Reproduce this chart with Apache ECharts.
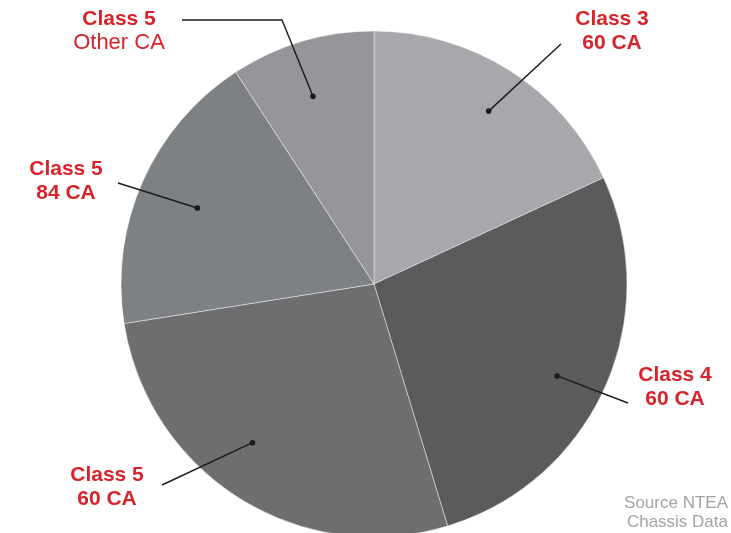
<!DOCTYPE html>
<html>
<head>
<meta charset="utf-8">
<script src="https://cdn.jsdelivr.net/npm/echarts@6/dist/echarts.min.js"></script>
<style>
html,body{margin:0;padding:0;background:#fff;}
#main{width:731px;height:533px;}
</style>
</head>
<body>
<div id="main"></div>
<script>
// ---- data ----
const labelTitles = ['Class 3', 'Class 4', 'Class 5', 'Class 5', 'Class 5'];
const labelSubs = ['60 CA', '60 CA', '60 CA', '84 CA', 'Other CA'];
const shares = [18.1, 27.2, 27.2, 18.3, 9.2];
const sourceLines = ['Source NTEA', 'Chassis Data'];

// ---- layout / style ----
const CENTER = [374, 284];
const RADIUS = 253;
const sliceColors = ['#a7a8ab', '#5b5b5e', '#6e6e70', '#7e8183', '#969599'];
// dot placement: [fraction along slice angle, fraction of radius]
const dotPlace = [[0.515, 0.82], [0.526, 0.81], [0.555, 0.79], [0.49, 0.76], [0.456, 0.78]];
// leader line end points (after the dot), in px
const leaderEnds = [[[561, 44]], [[628, 403]], [[162, 485]], [[118, 183]], [[282, 20], [182, 20]]];
// label text centre x and first-line middle y
const labelAnchor = [[612, 19], [675, 375], [107, 475], [66, 169], [119, 19]];
const subBold = [true, true, true, true, false];
const subSize = [21, 21, 21, 21, 22];
const LINE_GAP = 24;
const RED = '#d8232a';
const FONT = '"Liberation Sans", Arial, sans-serif';

const chart = echarts.init(document.getElementById('main'), null, {renderer: 'canvas'});

const names = labelTitles.map((t, i) => t + ' ' + labelSubs[i]);
const total = shares.reduce((a, b) => a + b, 0);

// build annotation graphics from the slice geometry
const graphics = [];
let acc = 0;
shares.forEach((v, i) => {
  const a0 = acc / total * 360;
  const a1 = (acc + v) / total * 360;
  acc += v;
  const ang = (a0 + (a1 - a0) * dotPlace[i][0]) * Math.PI / 180;
  const r = RADIUS * dotPlace[i][1];
  const dx = CENTER[0] + r * Math.sin(ang);
  const dy = CENTER[1] - r * Math.cos(ang);
  const pts = [[dx, dy]].concat(leaderEnds[i]);
  graphics.push({
    type: 'polyline', z: 10,
    shape: {points: pts},
    style: {stroke: '#1b1b1b', lineWidth: 1.4, fill: null}
  });
  graphics.push({
    type: 'circle', z: 11,
    shape: {cx: dx, cy: dy, r: 2.8},
    style: {fill: '#1b1b1b'}
  });
  graphics.push({
    type: 'text', z: 12, x: labelAnchor[i][0], y: labelAnchor[i][1],
    style: {text: labelTitles[i], fill: RED, font: 'bold 21px ' + FONT, textAlign: 'center', textVerticalAlign: 'middle'}
  });
  graphics.push({
    type: 'text', z: 12, x: labelAnchor[i][0], y: labelAnchor[i][1] + LINE_GAP,
    style: {text: labelSubs[i], fill: RED, font: (subBold[i] ? 'bold ' : '') + subSize[i] + 'px ' + FONT, textAlign: 'center', textVerticalAlign: 'middle'}
  });
});
sourceLines.forEach((t, i) => {
  graphics.push({
    type: 'text', z: 12, x: 728, y: 503 + i * 19.5,
    style: {text: t, fill: '#a3a3a3', font: '17px ' + FONT, textAlign: 'right', textVerticalAlign: 'middle'}
  });
});

chart.setOption({
  animation: false,
  backgroundColor: '#ffffff',
  series: [{
    type: 'pie',
    center: CENTER,
    radius: RADIUS,
    startAngle: 90,
    clockwise: true,
    silent: true,
    label: {show: false},
    labelLine: {show: false},
    itemStyle: {borderColor: 'rgba(255,255,255,0.55)', borderWidth: 0.8},
    data: shares.map((v, i) => ({name: names[i], value: v, itemStyle: {color: sliceColors[i]}}))
  }],
  graphic: graphics
});
</script>
</body>
</html>
